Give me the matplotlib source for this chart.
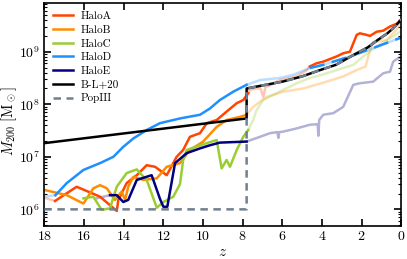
import matplotlib
matplotlib.use("Agg")
import matplotlib.pyplot as plt
import numpy as np

plt.rcParams['font.family'] = 'cmr10'
plt.rcParams['mathtext.fontset'] = 'cm'
plt.rcParams['axes.formatter.use_mathtext'] = True
plt.rcParams['axes.unicode_minus'] = False

# ---- data (z, log10 M200) ----
# HaloA
a_z_pre = [18.0, 17.46]
a_m_pre = [6.22, 6.16]
a_z = [17.46, 16.37, 15.19, 14.6, 14.35, 14.27, 13.85, 13.34, 12.84, 12.42, 11.83, 11.33,
       11.0, 10.66, 10.15, 9.81, 9.31, 8.81, 8.30, 7.97, 7.72]
a_m = [6.16, 6.43, 6.24, 6.05, 5.97, 6.18, 6.50, 6.65, 6.84, 6.81, 6.65, 7.0,
       7.13, 7.38, 7.45, 7.64, 7.70, 7.86, 8.02, 8.08, 8.21]
a_z_mid = [7.72, 7.63, 7.3, 7.1, 6.96, 6.85, 6.12, 5.28, 4.77, 4.61]
a_m_mid = [8.21, 8.27, 8.30, 8.30, 8.14, 8.32, 8.46, 8.53, 8.65, 8.72]
a_z_late = [4.61, 4.27, 3.94, 3.26, 2.93, 2.59, 2.25, 2.09, 1.75, 1.58, 1.24, 0.91, 0.57, 0.24, 0.0]
a_m_late = [8.72, 8.78, 8.81, 8.91, 8.97, 9.0, 9.32, 9.35, 9.32, 9.30, 9.38, 9.40, 9.48, 9.53, 9.60]

# HaloB
b_z = [18.0, 16.87, 16.03, 15.53, 15.19, 14.85, 14.44, 14.1, 13.93, 13.77, 13.51, 13.0,
       12.33, 11.83, 11.16, 10.66, 9.99, 9.31, 8.81, 8.14, 7.8]
b_m = [6.37, 6.27, 6.11, 6.40, 6.46, 6.40, 6.18, 6.34, 6.18, 6.43, 6.62, 6.56,
       6.59, 6.81, 6.88, 7.13, 7.29, 7.57, 7.70, 7.76, 7.80]
b_z_late = [7.8, 7.47, 6.79, 5.95, 4.94, 3.77, 2.93, 2.25, 1.8, 1.6, 1.45, 0.74, 0.24, 0.0]
b_m_late = [7.80, 7.95, 8.14, 8.24, 8.30, 8.43, 8.53, 8.65, 8.72, 9.0, 9.18, 9.22, 9.42, 9.55]

# HaloC
c_z = [16.03, 15.53, 15.11, 14.69, 14.35, 13.85, 13.34, 13.0, 12.84, 12.33, 12.0, 11.5,
       11.16, 11.0, 10.82, 9.81, 9.31, 9.06, 8.81, 8.64, 8.30, 7.97, 7.72]
c_m = [6.21, 6.24, 5.99, 6.02, 6.43, 6.69, 6.76, 6.62, 6.56, 6.03, 6.14, 6.24,
       6.48, 6.94, 7.13, 7.26, 7.32, 6.78, 6.94, 6.81, 7.13, 7.38, 7.51]
c_z_late = [7.72, 7.47, 7.30, 6.96, 6.29, 5.28, 4.61, 4.1, 3.26, 2.42, 1.92, 1.24, 0.41, 0.0]
c_m_late = [7.51, 7.70, 7.89, 8.08, 8.21, 8.40, 8.50, 8.55, 8.65, 8.75, 8.91, 9.10, 9.29, 9.40]

# HaloD
d_z_pre = [18.0, 17.44]
d_m_pre = [6.24, 6.27]
d_z = [17.44, 16.87, 16.03, 15.19, 14.52, 14.02, 13.51, 12.84, 12.17, 11.16, 10.15, 9.65,
       9.15, 8.47, 7.80]
d_m = [6.27, 6.50, 6.75, 6.88, 7.00, 7.19, 7.35, 7.51, 7.64, 7.73, 7.80, 7.92,
       8.08, 8.24, 8.37]
d_z_late = [7.80, 7.13, 6.12, 5.45, 4.61, 3.94, 2.59, 1.42, 0.0]
d_m_late = [8.37, 8.46, 8.50, 8.56, 8.69, 8.75, 8.91, 9.07, 9.27]

# HaloE
e_z_pre = [15.36, 14.69]
e_m_pre = [6.21, 6.27]
e_z = [14.69, 14.35, 14.02, 13.77, 13.34, 12.59, 12.17, 12.0, 11.8, 11.41, 10.82, 10.15,
       9.65, 9.15, 7.80]
e_m = [6.27, 6.27, 6.14, 6.18, 6.56, 6.65, 6.2, 6.05, 6.05, 6.88, 7.07, 7.16,
       7.22, 7.27, 7.29]
e_z_late = [7.80, 7.13, 6.62, 6.25, 6.2, 6.15, 5.95, 5.28, 4.61, 4.22, 4.18, 4.14, 3.94,
            3.43, 2.93, 2.42, 2.09, 1.42, 0.91, 0.57, 0.41, 0.15, 0.0]
e_m_late = [7.29, 7.38, 7.45, 7.47, 7.36, 7.47, 7.48, 7.54, 7.61, 7.62, 7.40, 7.70, 7.80,
            7.83, 7.95, 8.37, 8.40, 8.43, 8.59, 8.62, 8.81, 8.88, 8.90]

# B-L+20 threshold
bl_z_early = [18.0, 7.8]
bl_m_early = [7.26, 7.73]
bl_z_late = [7.8, 6.0, 5.0, 4.1, 3.3, 2.4, 1.7, 1.2, 0.7, 0.4, 0.15, 0.0]
bl_m_late = [8.30, 8.43, 8.53, 8.65, 8.75, 8.94, 9.08, 9.22, 9.35, 9.45, 9.55, 9.62]

# PopIII threshold
pop_z_early = [18.0, 7.8]
pop_m_early = [6.0, 6.0]

names = ['HaloA', 'HaloB', 'HaloC', 'HaloD', 'HaloE']
colors = ['#ff4500', '#ff8c00', '#9acd32', '#1e90ff', '#000080']

fig, ax = plt.subplots(figsize=(4.07, 2.59), dpi=100)
fig.subplots_adjust(left=0.109, right=0.986, bottom=0.127, top=0.99)

lw = 1.8
fa = 0.3


def seg(z, m, c, alpha=1.0, **kw):
    return ax.plot(z, 10 ** np.array(m), color=c, lw=lw, alpha=alpha, **kw)


# faded pieces
seg(a_z_pre, a_m_pre, colors[0], fa)
seg(a_z_mid, a_m_mid, colors[0], fa)
seg(b_z_late, b_m_late, colors[1], fa)
seg(c_z_late, c_m_late, colors[2], fa)
seg(d_z_pre, d_m_pre, colors[3], fa)
seg(d_z_late, d_m_late, colors[3], fa)
seg(e_z_pre, e_m_pre, colors[4], fa)
seg(e_z_late, e_m_late, colors[4], fa)

# solid pieces
seg(a_z, a_m, colors[0], label=names[0])
seg(a_z_late, a_m_late, colors[0])
seg(b_z, b_m, colors[1], label=names[1])
seg(c_z, c_m, colors[2], label=names[2])
seg(d_z, d_m, colors[3], label=names[3])
seg(d_z_late[4:], d_m_late[4:], colors[3], ls=(0, (6, 3)))
seg(e_z, e_m, colors[4], label=names[4])

# thresholds
bl_z = bl_z_early + bl_z_late
bl_m = bl_m_early + bl_m_late
ax.plot(bl_z, 10 ** np.array(bl_m), color='black', lw=lw, label='B-L+20', zorder=3)
pop_z = pop_z_early + bl_z_late
pop_m = pop_m_early + bl_m_late
ax.plot(pop_z, 10 ** np.array(pop_m), color='#708090', lw=lw, ls=(0, (3, 2.2)),
        label='PopIII', zorder=4)

ax.set_yscale('log')
ax.set_xlim(18, 0)
ax.set_ylim(4.8e5, 8.6e9)
ax.set_xticks([18, 16, 14, 12, 10, 8, 6, 4, 2, 0])
ax.tick_params(which='both', direction='in', top=True, right=True, labelsize=10, pad=3)
ax.tick_params(which='major', length=5, width=1.2)
ax.tick_params(which='minor', length=2.5, width=0.8)
for s in ax.spines.values():
    s.set_linewidth(1.2)

ax.set_xlabel(r'$z$', fontsize=11)
ax.set_ylabel(r'$M_{200}\ [\mathrm{M}_\odot]$', fontsize=10.5)
ax.xaxis.set_label_coords(0.5, -0.085)
ax.yaxis.set_label_coords(-0.071, 0.47)

ax.legend(loc='upper left', frameon=False, fontsize=8, handlelength=1.8,
          labelspacing=0.35, borderaxespad=0.4, handletextpad=0.7)

fig.savefig('out.png', dpi=100)
